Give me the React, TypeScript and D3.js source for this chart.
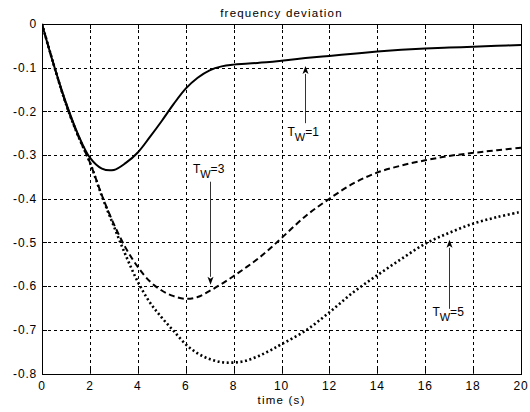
import React from "react";
import * as d3 from "d3";

const time = [0, 0.5, 1, 1.5, 2, 2.5, 3, 3.5, 4, 4.5, 5, 5.5, 6, 6.5, 7, 7.5, 8, 8.5, 9, 9.5, 10, 11, 12, 13, 14, 15, 16, 17, 18, 19, 20];
const tw1 = [0, -0.095, -0.18, -0.252, -0.306, -0.331, -0.334, -0.318, -0.294, -0.259, -0.222, -0.183, -0.148, -0.123, -0.106, -0.097, -0.093, -0.091, -0.089, -0.087, -0.084, -0.078, -0.073, -0.068, -0.063, -0.059, -0.056, -0.054, -0.052, -0.05, -0.048];
const tw3 = [0, -0.095, -0.183, -0.255, -0.317, -0.392, -0.458, -0.513, -0.556, -0.589, -0.61, -0.623, -0.629, -0.625, -0.611, -0.595, -0.577, -0.558, -0.538, -0.515, -0.49, -0.44, -0.4, -0.365, -0.34, -0.324, -0.312, -0.302, -0.295, -0.289, -0.283];
const tw5 = [0, -0.095, -0.183, -0.255, -0.317, -0.394, -0.463, -0.53, -0.59, -0.637, -0.672, -0.703, -0.733, -0.754, -0.767, -0.774, -0.775, -0.771, -0.761, -0.748, -0.733, -0.702, -0.66, -0.614, -0.575, -0.538, -0.503, -0.478, -0.457, -0.442, -0.43];

const xTicks = [0, 2, 4, 6, 8, 10, 12, 14, 16, 18, 20];
const yTicks = [0, -0.1, -0.2, -0.3, -0.4, -0.5, -0.6, -0.7, -0.8];

const titleText = "frequency deviation";
const xLabelText = "time (s)";

// annotations: label value, arrow x, arrow tail y, arrow tip y, text x, text y
const annLabels = ["1", "3", "5"];
const annArrowX = [11, 7, 17];
const annArrowTail = [-0.227, -0.361, -0.652];
const annArrowTip = [-0.096, -0.597, -0.494];
const annTextX = [10.25, 6.3, 16.3];
const annTextY = [-0.256, -0.341, -0.668];

const W = 530;
const H = 412;
const left = 42;
const right = 521;
const top = 24;
const bottom = 373.5;

const font = "'Liberation Sans', Arial, sans-serif";

export default function App() {
  const x = d3.scaleLinear().domain([0, 20]).range([left, right]);
  const y = d3.scaleLinear().domain([-0.8, 0]).range([bottom, top]);

  const line = d3
    .line<number>()
    .x((_, i) => x(time[i]))
    .y((d) => y(d))
    .curve(d3.curveCatmullRom.alpha(0.5));

  const series = [
    { values: tw1, dash: undefined as string | undefined, width: 2 },
    { values: tw3, dash: "6,3.5", width: 2 },
    { values: tw5, dash: "2,2.6", width: 2.6 },
  ];

  const ax = (v: number) => Math.round(x(v)) + 0.5;
  const ay = (v: number) => Math.round(y(v)) + 0.5;

  return (
    <svg
      width={W}
      height={H}
      style={{ position: "absolute", left: 0, top: 0, background: "#fff" }}
    >
      <rect x={0} y={0} width={W} height={H} fill="#fff" />
      {/* grid */}
      {xTicks.slice(1, -1).map((t) => (
        <line key={"gx" + t} x1={ax(t)} x2={ax(t)} y1={top} y2={bottom} stroke="#000" strokeWidth={1} strokeDasharray="3,3" />
      ))}
      {yTicks.slice(1, -1).map((t) => (
        <line key={"gy" + t} x1={left} x2={right} y1={ay(t)} y2={ay(t)} stroke="#000" strokeWidth={1} strokeDasharray="3,3" />
      ))}
      {/* ticks inside */}
      {xTicks.map((t) => (
        <g key={"tx" + t}>
          <line x1={ax(t)} x2={ax(t)} y1={bottom} y2={bottom - 5} stroke="#000" />
          <line x1={ax(t)} x2={ax(t)} y1={top} y2={top + 5} stroke="#000" />
        </g>
      ))}
      {yTicks.map((t) => (
        <g key={"ty" + t}>
          <line x1={left} x2={left + 5} y1={ay(t)} y2={ay(t)} stroke="#000" />
          <line x1={right} x2={right - 5} y1={ay(t)} y2={ay(t)} stroke="#000" />
        </g>
      ))}
      {/* box */}
      <rect x={left + 0.5} y={top + 0.5} width={Math.round(right - left)} height={Math.round(bottom - top)} fill="none" stroke="#000" strokeWidth={1} />
      {/* curves */}
      <g clipPath="url(#clip)">
        {series.map((s, i) => (
          <path
            key={"s" + i}
            d={line(s.values) || ""}
            fill="none"
            stroke="#000"
            strokeWidth={s.width}
            strokeDasharray={s.dash}
            strokeLinecap="butt"
            strokeLinejoin="round"
          />
        ))}
      </g>
      <defs>
        <clipPath id="clip">
          <rect x={left} y={top - 2} width={right - left + 1} height={bottom - top + 3} />
        </clipPath>
      </defs>
      {/* annotations */}
      {annLabels.map((lab, i) => {
        const axp = ax(annArrowX[i]);
        const tail = y(annArrowTail[i]);
        const tip = y(annArrowTip[i]);
        const dir = tip < tail ? -1 : 1;
        const headLen = 8;
        const headW = 3;
        const base = tip - dir * headLen;
        return (
          <g key={"a" + i}>
            <line x1={axp} x2={axp} y1={tail} y2={base} stroke="#333" strokeWidth={1} />
            <path
              d={`M${axp},${tip} L${axp - headW},${base} L${axp},${base + dir * 2} L${axp + headW},${base} Z`}
              fill="#000"
            />
            <text x={x(annTextX[i])} y={y(annTextY[i])} fontFamily={font} fontSize={12} fill="#000">
              <tspan>T</tspan>
              <tspan dy={5} fontSize={11}>W</tspan>
              <tspan dy={-5}>={lab}</tspan>
            </text>
          </g>
        );
      })}
      {/* tick labels */}
      {xTicks.map((t) => (
        <text key={"lx" + t} x={x(t)} y={389.5} textAnchor="middle" fontFamily={font} fontSize={12} letterSpacing={0.8} fill="#000">
          {String(t)}
        </text>
      ))}
      {yTicks.map((t) => (
        <text key={"ly" + t} x={37} y={y(t)} dy="0.35em" textAnchor="end" fontFamily={font} fontSize={12} letterSpacing={0.8} fill="#000">
          {t === 0 ? "0" : t.toFixed(1)}
        </text>
      ))}
      <text x={(left + right) / 2} y={16.5} textAnchor="middle" fontFamily={font} fontSize={11.5} letterSpacing={1.2} fill="#000">
        {titleText}
      </text>
      <text x={(left + right) / 2} y={404} textAnchor="middle" fontFamily={font} fontSize={11.5} letterSpacing={1.2} fill="#000">
        {xLabelText}
      </text>
    </svg>
  );
}
